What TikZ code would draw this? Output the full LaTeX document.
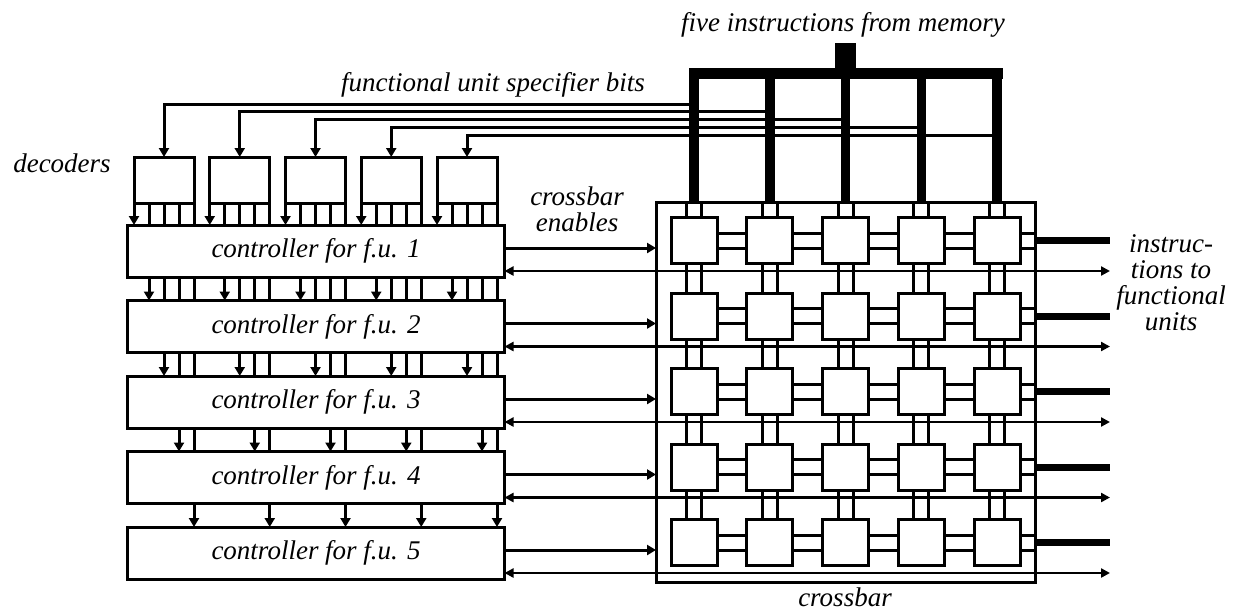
\documentclass[tikz,border=0pt]{standalone}
\usepackage{fontspec}
\setmainfont{Liberation Serif}
\usetikzlibrary{arrows.meta,calc}
\begin{document}
\begin{tikzpicture}[x=1pt,y=-1pt,
  every node/.style={inner sep=0pt,outer sep=0pt},
  lbl/.style={font=\itshape\fontsize{27}{26}\selectfont, align=center},
  box/.style={draw,line width=3pt},
  wire/.style={line width=3pt},
  arr/.style={wire,-{Triangle[length=9pt,width=10pt]}},
  darr/.style={line width=2.8pt,{Triangle[length=9pt,width=9pt]}-{Triangle[length=9pt,width=9pt]}},
  bar/.style={line width=9.5pt},
  bus/.style={line width=11pt,line cap=rect},
  outbar/.style={line width=7pt},
]
\useasboundingbox (0,0) rectangle (1241,614);

% crossbar frame and cells
\node[box,minimum width=379pt,minimum height=380pt] (xbar) at (845.5,392) {};
\foreach \i in {0,...,4}{
  \foreach \j in {0,...,4}{
    \node[box,fill=white,minimum size=46pt] (c\i\j) at ({694+75.75*\i},{240.5+75.6*\j}) {};
  }
}
% horizontal cell connectors
\foreach \j in {0,...,4}{
  \foreach \i in {0,...,3}{
    \pgfmathtruncatemacro\ip{\i+1}
    \draw[wire] ([yshift=7.5pt]c\i\j.east) -- ([yshift=7.5pt]c\ip\j.west);
    \draw[wire] ([yshift=-7.5pt]c\i\j.east) -- ([yshift=-7.5pt]c\ip\j.west);
  }
  \draw[wire] ([yshift=7.5pt]c4\j.east) -- ++(15.5,0);
  \draw[wire] ([yshift=-7.5pt]c4\j.east) -- ++(15.5,0);
}
% vertical cell connectors
\foreach \i in {0,...,4}{
  \draw[wire] ([xshift=7.5pt]c\i0.north) -- ++(0,-15.5);
  \draw[wire] ([xshift=-7.5pt]c\i0.north) -- ++(0,-15.5);
  \foreach \j in {0,...,3}{
    \pgfmathtruncatemacro\jp{\j+1}
    \draw[wire] ([xshift=7.5pt]c\i\j.south) -- ([xshift=7.5pt]c\i\jp.north);
    \draw[wire] ([xshift=-7.5pt]c\i\j.south) -- ([xshift=-7.5pt]c\i\jp.north);
  }
}

% decoders
\foreach \i in {0,...,4}{
  \node[box,minimum width=60pt,minimum height=46pt] (dec\i) at ({164+75.75*\i},180) {};
  \foreach \k in {0,...,4}{
    \path ([xshift=\k*15pt]dec\i.south west) coordinate (l\i\k);
  }
}
% controllers
\foreach \j [count=\n] in {0,...,4}{
  \node[box,lbl,minimum width=377pt,minimum height=52pt] (ctrl\j) at (316,{251+75.5*\j}) {controller for f.u. \n};
}
% decoder outputs passing down through controllers
\foreach \i in {0,...,4}{
  \draw[arr] (l\i0) -- (l\i0 |- ctrl0.north);
  \foreach \k in {1,...,4}{
    \draw[wire] (l\i\k) -- (l\i\k |- ctrl0.north);
    \foreach \j in {1,...,\k}{
      \pgfmathtruncatemacro\jm{\j-1}
      \ifnum\j=\k \def\sty{arr}\else\def\sty{wire}\fi
      \draw[\sty] (l\i\k |- ctrl\jm.south) -- (l\i\k |- ctrl\j.north);
    }
  }
}

% memory input and instruction bus
\node[fill,minimum width=21pt,minimum height=30pt] (mem) at (845.5,58) {};
\path (mem.south) ++(0,0.5) coordinate (busc);
% functional unit specifier bits
\foreach \k in {0,...,4}{
  \path (0,{104+7.75*\k}) coordinate (s\k);
  \draw[arr] (c\k0.north |- s\k) -| (dec\k.north);
}
\draw[bus] (c00.north |- busc) -- (c40.north |- busc);
\foreach \i in {0,...,4}{
  \draw[bar] (c\i0.north |- busc) -- (c\i0.north |- xbar.north);
}

% crossbar enables and return lines
\coordinate (outend) at (1110,0);
\foreach \j in {0,...,4}{
  \path ([yshift=3pt]ctrl\j.east) coordinate (en\j);
  \draw[arr] (en\j) -- (en\j -| xbar.west);
  \path ([yshift=-20pt]ctrl\j.east) coordinate (rt\j);
  \draw[darr] (rt\j) -- (rt\j -| outend);
  \draw[outbar] (c4\j.east -| xbar.east) -- (c4\j.east -| outend);
}

% labels
\node[lbl] (tmem) at (843,25) {five instructions from memory};
\node[lbl] (tspec) at (493,85) {functional unit specifier bits};
\node[lbl] (tdec) at (62,163) {decoders};
\node[lbl] (tenab) at (577,209) {crossbar\\enables};
\node[lbl] (txb) at (845,597) {crossbar};
\node[lbl] (tout) at (1171,283) {instruc-\\tions to\\functional\\units};
\end{tikzpicture}
\end{document}
